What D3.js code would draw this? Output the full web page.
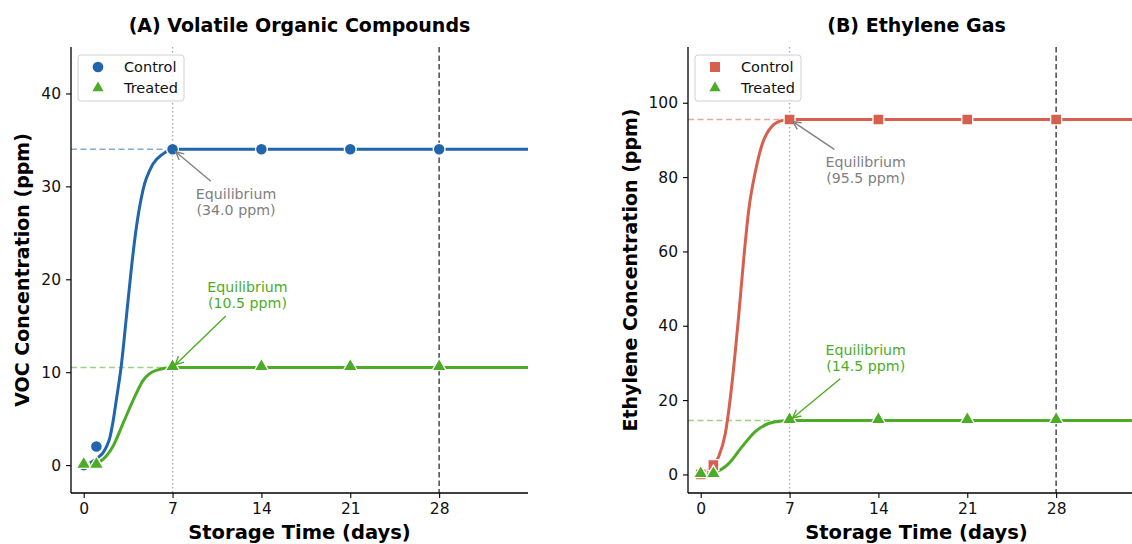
<!DOCTYPE html>
<html><head><meta charset="utf-8">
<script src="https://cdn.jsdelivr.net/npm/d3@7"></script>
<style>
body{margin:0;background:#fff;}
svg{display:block;font-family:"DejaVu Sans",sans-serif;}
</style></head>
<body><svg id="c" width="1132" height="544"></svg>
<script>
// ---- data ----
const sampleDays = [0, 1, 7, 14, 21, 28];
const vocControl = [0, 2, 34, 34, 34, 34];
const vocTreated = [0, 0, 10.5, 10.5, 10.5, 10.5];
const ethControl = [0, 2.5, 95.5, 95.5, 95.5, 95.5];
const ethTreated = [0, 0, 14.5, 14.5, 14.5, 14.5];

// fitted curves
const vocControlCurveDays = [0, 0.5, 1, 1.5, 1.8, 2.05, 2.3, 2.57, 2.97, 3.36, 3.75, 4.15, 4.67, 5.46, 6.25, 7, 14, 21, 28, 35];
const vocControlCurveVals = [0.1, 0.25, 0.7, 1.3, 2.0, 2.9, 4.6, 7, 10.8, 15.9, 21.1, 25.6, 29.6, 32.4, 33.5, 34, 34, 34, 34, 34];
const vocTreatedCurveDays = [0, 0.5, 1, 1.26, 1.8, 2.3, 3.1, 3.9, 4.67, 5.7, 7, 14, 21, 28, 35];
const vocTreatedCurveVals = [0, 0.05, 0.2, 0.35, 1.0, 2.0, 4.5, 7.0, 9.1, 10.2, 10.5, 10.5, 10.5, 10.5, 10.5];
const ethControlCurveDays = [0, 0.5, 1, 1.42, 1.94, 2.47, 2.99, 3.39, 3.78, 4.31, 4.83, 5.62, 6.4, 7, 14, 21, 28, 35];
const ethControlCurveVals = [0.3, 1, 2.3, 4.8, 11, 24.6, 42.6, 58, 71, 81.5, 88.7, 93.7, 95.2, 95.5, 95.5, 95.5, 95.5, 95.5];
const ethTreatedCurveDays = [0, 0.5, 1, 1.16, 1.7, 2.2, 3.25, 4.3, 5.35, 6.4, 7, 14, 21, 28, 35];
const ethTreatedCurveVals = [0, 0.1, 0.4, 0.6, 1.5, 2.9, 7.4, 11.5, 13.7, 14.4, 14.5, 14.5, 14.5, 14.5, 14.5];

const xTicks = [0, 7, 14, 21, 28];
const vocYTicks = [0, 10, 20, 30, 40];
const ethYTicks = [0, 20, 40, 60, 80, 100];
const seriesNames = ["Control", "Treated"];
const equilibriumDay = 7;
const endDay = 28;

const BLUE = "#2166ac", GREEN = "#4dac26", RED = "#d6604d";

const svg = d3.select("#c");

function panel(opt) {
  const {left, right, top, bottom} = opt.box;
  const x = d3.scaleLinear().domain([-1, 35]).range([left, right]);
  const y = d3.scaleLinear().domain(opt.ydom).range([bottom, top]);
  const g = svg.append("g");
  const clipId = "clip" + opt.id;
  svg.append("clipPath").attr("id", clipId).append("rect")
    .attr("x", left).attr("y", top).attr("width", right - left).attr("height", bottom - top);
  const plot = g.append("g").attr("clip-path", `url(#${clipId})`);

  [[opt.ctrlEq, opt.ctrlColor], [opt.trtEq, GREEN]].forEach(([v, c]) => {
    plot.append("line").attr("x1", x(-1)).attr("x2", x(equilibriumDay))
      .attr("y1", y(v)).attr("y2", y(v))
      .attr("stroke", c).attr("stroke-opacity", 0.55).attr("stroke-width", 1.4)
      .attr("stroke-dasharray", "6,3.5");
  });
  plot.append("line").attr("x1", x(equilibriumDay)).attr("x2", x(equilibriumDay))
    .attr("y1", top).attr("y2", bottom).attr("stroke", "#aaaaaa").attr("stroke-width", 1.4)
    .attr("stroke-dasharray", "1.5,2.5");
  plot.append("line").attr("x1", x(endDay)).attr("x2", x(endDay))
    .attr("y1", top).attr("y2", bottom).attr("stroke", "#555").attr("stroke-width", 1.6)
    .attr("stroke-dasharray", "5.5,3");

  const line = d3.line().x(d => x(d[0])).y(d => y(d[1])).curve(d3.curveMonotoneX);
  const curves = [
    [d3.zip(opt.ctrlCurveDays, opt.ctrlCurveVals), opt.ctrlColor],
    [d3.zip(opt.trtCurveDays, opt.trtCurveVals), GREEN]
  ];
  curves.forEach(([pts, c]) => {
    plot.append("path").attr("d", line(pts)).attr("fill", "none")
      .attr("stroke", c).attr("stroke-width", 3).attr("stroke-linecap", "round");
  });

  const ctrlPts = d3.zip(sampleDays, opt.ctrlVals);
  const trtPts = d3.zip(sampleDays, opt.trtVals);
  const ctrlSym = d3.symbol().type(opt.ctrlShape).size(opt.ctrlShape === d3.symbolSquare ? 120 : 110);
  const triSym = d3.symbol().type(d3.symbolTriangle).size(90);
  plot.selectAll(".cm").data(ctrlPts).join("path")
    .attr("d", ctrlSym).attr("transform", d => `translate(${x(d[0])},${y(d[1])})`)
    .attr("fill", opt.ctrlColor).attr("stroke", "#fff").attr("stroke-width", 1.3);
  plot.selectAll(".tm").data(trtPts).join("path")
    .attr("d", triSym).attr("transform", d => `translate(${x(d[0])},${y(d[1]) - 1})`)
    .attr("fill", GREEN).attr("stroke", "#fff").attr("stroke-width", 1.3);

  const xa = g.append("g").attr("transform", `translate(0,${bottom})`)
    .call(d3.axisBottom(x).tickValues(xTicks).tickSize(5).tickPadding(5).tickSizeOuter(0));
  const ya = g.append("g").attr("transform", `translate(${left},0)`)
    .call(d3.axisLeft(y).tickValues(opt.yticks).tickSize(5).tickPadding(5).tickSizeOuter(0));
  [xa, ya].forEach(a => {
    a.select(".domain").attr("stroke", "#000").attr("stroke-width", 1.3);
    a.selectAll(".tick line").attr("stroke", "#000").attr("stroke-width", 1.1);
    a.selectAll(".tick text").attr("font-size", 15.5).attr("fill", "#111")
      .attr("font-family", "DejaVu Sans");
  });
  xa.select(".domain").attr("d", `M${left},0H${right}`);
  ya.select(".domain").attr("d", `M0,${bottom}V${top}`);

  g.append("text").attr("x", (left + right) / 2).attr("y", 32).attr("text-anchor", "middle")
    .attr("font-size", 19).attr("font-weight", "bold").text(opt.title);
  g.append("text").attr("x", (left + right) / 2).attr("y", 538.5).attr("text-anchor", "middle")
    .attr("font-size", 19.5).attr("font-weight", "bold").text("Storage Time (days)");
  g.append("text").attr("transform", `translate(${opt.ylabelX},${(top + bottom) / 2}) rotate(-90)`)
    .attr("text-anchor", "middle").attr("font-size", 19).attr("font-weight", "bold")
    .text(opt.ylabel);

  const lg = g.append("g").attr("transform", `translate(${left + 7},${top + 8})`);
  lg.append("rect").attr("width", 106).attr("height", 46).attr("rx", 3)
    .attr("fill", "#fff").attr("fill-opacity", 0.85).attr("stroke", "#d0d0d0");
  const legSyms = [[d3.symbol().type(opt.ctrlShape).size(opt.ctrlShape === d3.symbolSquare ? 100 : 90), opt.ctrlColor],
                   [d3.symbol().type(d3.symbolTriangle).size(55), GREEN]];
  seriesNames.forEach((n, i) => {
    lg.append("path").attr("d", legSyms[i][0]).attr("fill", legSyms[i][1])
      .attr("transform", `translate(20,${12 + i * 21})`);
    lg.append("text").attr("x", 46).attr("y", 12 + i * 21).attr("dy", "0.35em")
      .attr("font-size", 14.5).attr("fill", "#111").text(n);
  });

  function annotate(tx, ty, target, color, label) {
    const cx = x(tx), cy = y(ty);
    const t = g.append("text").attr("text-anchor", "middle").attr("font-size", 14.2).attr("fill", color);
    t.append("tspan").attr("x", cx).attr("y", cy - 8).attr("dy", "0.35em").text("Equilibrium");
    t.append("tspan").attr("x", cx).attr("y", cy + 8).attr("dy", "0.35em").text(label);
    const px = x(target[0]), py = y(target[1]);
    const dx = px - cx, dy = py - cy;
    const hw = 44, hh = 21;
    const s = Math.min(hw / Math.abs(dx), hh / Math.abs(dy));
    const sx = cx + dx * s, sy = cy + dy * s;
    const len = Math.hypot(px - sx, py - sy);
    const ux = (px - sx) / len, uy = (py - sy) / len;
    const ex = px - ux * 4, ey = py - uy * 4;
    g.append("line").attr("x1", sx).attr("y1", sy).attr("x2", ex).attr("y2", ey)
      .attr("stroke", color).attr("stroke-width", 1.4);
    const ah = 8, aw = 4;
    const bx = ex - ux * ah, by = ey - uy * ah;
    g.append("path").attr("d",
      `M${bx - uy * aw},${by + ux * aw}L${ex},${ey}L${bx + uy * aw},${by - ux * aw}`)
      .attr("fill", "none").attr("stroke", color).attr("stroke-width", 1.4);
  }
  annotate(opt.ctrlAnn[0], opt.ctrlAnn[1], [equilibriumDay, opt.ctrlEq], "#808080", `(${opt.ctrlEq.toFixed(1)} ppm)`);
  annotate(opt.trtAnn[0], opt.trtAnn[1], [equilibriumDay, opt.trtEq], GREEN, `(${opt.trtEq.toFixed(1)} ppm)`);
}

panel({
  id: "A", box: {left: 71, right: 528, top: 47, bottom: 493}, ydom: [-3, 45],
  yticks: vocYTicks, title: "(A) Volatile Organic Compounds", ylabel: "VOC Concentration (ppm)", ylabelX: 29,
  ctrlColor: BLUE, ctrlShape: d3.symbolCircle, ctrlVals: vocControl, trtVals: vocTreated,
  ctrlCurveDays: vocControlCurveDays, ctrlCurveVals: vocControlCurveVals,
  trtCurveDays: vocTreatedCurveDays, trtCurveVals: vocTreatedCurveVals,
  ctrlEq: 34.0, trtEq: 10.5, ctrlAnn: [12, 28.3], trtAnn: [12.9, 18.3]
});
panel({
  id: "B", box: {left: 688, right: 1145, top: 47, bottom: 493}, ydom: [-5, 115],
  yticks: ethYTicks, title: "(B) Ethylene Gas", ylabel: "Ethylene Concentration (ppm)", ylabelX: 637,
  ctrlColor: RED, ctrlShape: d3.symbolSquare, ctrlVals: ethControl, trtVals: ethTreated,
  ctrlCurveDays: ethControlCurveDays, ctrlCurveVals: ethControlCurveVals,
  trtCurveDays: ethTreatedCurveDays, trtCurveVals: ethTreatedCurveVals,
  ctrlEq: 95.5, trtEq: 14.5, ctrlAnn: [13, 81.8], trtAnn: [13, 31.4]
});
</script></body></html>
